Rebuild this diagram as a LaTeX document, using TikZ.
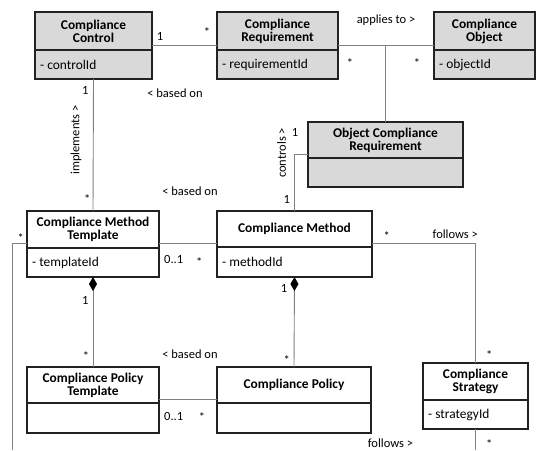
\documentclass[tikz,border=0pt]{standalone}
\usepackage{fontspec}
\setmainfont{Carlito}
\usetikzlibrary{arrows.meta}
\definecolor{headgray}{HTML}{D9D9D9}
\definecolor{boxline}{HTML}{222222}
\definecolor{linegray}{HTML}{808080}

% A UML class: name, x1, y1, x2, y of the divider, y2, fill, title, attribute
\newcommand\umlclassbox[9]{%
  \node[classhead, fill=#7, minimum width={(#4-#2)*1pt}, minimum height={(#5-#3)*1pt}] (#1) at (#2,#3) {#8};
  \node[classbody, fill=#7, minimum width={(#4-#2)*1pt}, minimum height={(#6-#5)*1pt}] (#1-b) at (#1.south west) {};
  \def\umlattrtext{#9}%
  \ifx\umlattrtext\empty\else
    \node[attr] (#1-a) at (#1-b.west) {#9};
  \fi
}
% A role, multiplicity or association label set on its baseline
\newcommand\umllabel[4]{\node[lbl] (#1) at (#2,#3) {#4};}

\begin{document}
\begin{tikzpicture}[x=1pt,y=-1pt,
  classhead/.style={draw=boxline, line width=1.1pt, inner sep=0pt, outer sep=0pt,
    align=center, anchor=north west, font=\fontsize{13.4}{13}\selectfont\bfseries},
  classbody/.style={draw=boxline, line width=1.1pt, inner sep=0pt, outer sep=0pt, anchor=north west},
  attr/.style={anchor=west, inner sep=0pt, xshift=5pt, font=\fontsize{13.4}{14}\selectfont},
  assoc/.style={draw=linegray, line width=0.9pt},
  comp/.style={assoc, {Diamond[length=14pt,width=8pt,color=black,fill=black]}-},
  lbl/.style={inner sep=0pt, anchor=base, font=\fontsize{12.5}{13}\selectfont},
  rlbl/.style={inner sep=0pt, anchor=center, rotate=90, font=\fontsize{12.5}{13}\selectfont}
]
\useasboundingbox (0,0) rectangle (537,450);

% helper coordinates for the horizontal runs and the lower edge
\coordinate (row1) at (0,45);
\coordinate (ctlrow) at (0,154);
\coordinate (rowM) at (0,243);
\coordinate (rowP) at (0,399);
\coordinate (leftrun) at (12,450);
\coordinate (bottom) at (0,450);

% classes
\umlclassbox{CC}{35}{12}{152}{50}{79}{headgray}{Compliance\\Control}{- controlId}
\umlclassbox{CR}{217}{12}{338}{50}{79}{headgray}{Compliance\\Requirement}{- requirementId}
\umlclassbox{CO}{434}{12}{535}{50}{79}{headgray}{Compliance\\Object}{- objectId}
\umlclassbox{OCR}{308}{122}{463}{158}{187}{headgray}{Object Compliance\\Requirement}{}
\umlclassbox{CMT}{27}{211}{159}{248}{277}{white}{Compliance Method\\Template}{- templateId}
\umlclassbox{CM}{217}{211}{372}{247}{277}{white}{Compliance Method}{- methodId}
\umlclassbox{CPT}{27}{367}{159}{403}{433}{white}{Compliance Policy\\Template}{}
\umlclassbox{CP}{217}{367}{371}{403}{433}{white}{Compliance Policy}{}
\umlclassbox{CS}{423}{363}{528}{400}{429}{white}{Compliance\\Strategy}{- strategyId}

% associations
\draw[assoc] (CC.east |- row1) -- (CR.west |- row1);
\draw[assoc] (CR.east |- row1) -- (CO.west |- row1);
\draw[assoc] (OCR.north) -- (OCR.north |- row1);
\draw[assoc] (CC-b.south) -- (CMT.north);
\draw[assoc] (CMT.east |- rowM) -- (CM.west |- rowM);
\draw[assoc] (CMT.west |- rowM) -| (leftrun);
\draw[assoc] (OCR.west |- ctlrow) -| (CM.north);
\draw[assoc] (CM.east |- rowM) -| (CS.north);
\draw[assoc] (CS-b.south) -- (CS-b.south |- bottom);
\draw[assoc] (CPT.east |- rowP) -- (CP.west |- rowP);
\draw[comp] (CMT-b.south) -- (CPT.north);
\draw[comp] (CM-b.south) -- (CP.north);

% labels
\umllabel{m1}{160}{40.7}{1}
\umllabel{m2}{207}{36}{*}
\umllabel{a1}{386}{23}{applies to >}
\umllabel{m3}{350}{67}{*}
\umllabel{m4}{417}{67}{*}
\umllabel{m5}{85.3}{94.3}{1}
\umllabel{a2}{175}{97.5}{< based on}
\node[rlbl] (a3) at (76,140) {implements >};
\umllabel{m6}{87.3}{203}{*}
\umllabel{a4}{190}{195.5}{< based on}
\umllabel{m7}{20.7}{242}{*}
\node[rlbl] (a5) at (281.7,153) {controls >};
\umllabel{m8}{295}{136}{1}
\umllabel{m9}{286.7}{203.3}{1}
\umllabel{m10}{173.7}{263.3}{0..1}
\umllabel{m11}{199.3}{266.5}{*}
\umllabel{m12}{386.7}{240.5}{*}
\umllabel{a6}{455.3}{238.3}{follows >}
\umllabel{m13}{85.3}{304}{1}
\umllabel{m14}{284}{292.7}{1}
\umllabel{m15}{86}{360}{*}
\umllabel{m16}{286.7}{364.5}{*}
\umllabel{a7}{190}{358.3}{< based on}
\umllabel{m17}{489.3}{359}{*}
\umllabel{m18}{173.7}{420.7}{0..1}
\umllabel{m19}{202}{421.5}{*}
\umllabel{m20}{489.3}{448}{*}
\umllabel{a8}{390.5}{447}{follows >}
\end{tikzpicture}
\end{document}
